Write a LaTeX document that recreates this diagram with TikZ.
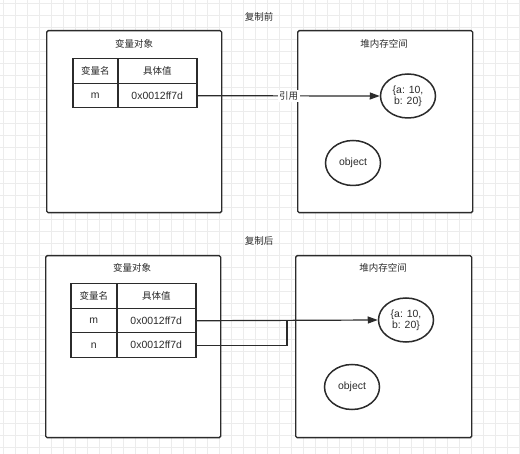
\documentclass[tikz,border=0pt]{standalone}
\usepackage{fontspec}
\setmainfont{Liberation Sans}[Scale=1.1]
\newfontfamily\cjk{Noto Sans CJK SC}
\usetikzlibrary{arrows.meta,shapes.geometric}

\definecolor{ink}{HTML}{2B2B2B}
\definecolor{grid line}{HTML}{ECECEC}

\begin{document}
\begin{tikzpicture}[x=1pt, y=-1pt, font=\fontsize{9.5}{11}\selectfont, text=ink,
  frame/.style={draw=ink, line width=1.4pt, rounded corners=1.5pt, fill=white,
                anchor=north west, minimum width=175pt, minimum height=182pt},
  cell/.style={draw=ink, line width=1.5pt, anchor=north west, inner sep=0pt},
  blob/.style={draw=ink, line width=1.5pt, ellipse, inner sep=0pt, align=center,
               minimum width=55pt, minimum height=44pt},
  link/.style={draw=ink, line width=1.2pt}]

\useasboundingbox[fill=white] (0,0) rectangle (520,454);
\draw[grid line, line width=0.6pt, xshift=3pt, yshift=-3pt, step=12pt] (-3,-3) grid (517,451);

% before copying
\node (titleA) at (259,17) {\cjk 复制前};
\node[frame] (stackA) at (46,30) {};
\node[frame] (heapA) at (297,30) {};
\node at (134,44) {\cjk 变量对象};
\node at (384,44) {\cjk 堆内存空间};

\node[cell, minimum width=45pt, minimum height=25pt] (nameA) at (72,58) {\cjk 变量名};
\node[cell, minimum width=79pt, minimum height=25pt] (valueA) at (117,58) {\cjk 具体值};
\node[cell, minimum width=45pt, minimum height=24pt] (mA) at (72,83) {m};
\node[cell, minimum width=79pt, minimum height=24pt] (mvalA) at (117,83) {0x0012ff7d};

\node[blob] (dataA) at (408,96) {\{a: 10,\\b: 20\}};
\node[blob, minimum height=45pt] (objA) at (353,163) {object};

\draw[link, -{Triangle[length=10pt,width=7pt]}] (mvalA.east) -- (dataA.west)
  node[pos=0.5, fill=white, inner sep=1.5pt] {\cjk 引用};

% after copying
\node (titleB) at (259,241) {\cjk 复制后};
\node[frame] (stackB) at (45,255) {};
\node[frame, minimum width=176pt] (heapB) at (295,255) {};
\node at (132,268) {\cjk 变量对象};
\node at (383,268) {\cjk 堆内存空间};

\node[cell, minimum width=46pt, minimum height=25pt] (nameB) at (70,283) {\cjk 变量名};
\node[cell, minimum width=79pt, minimum height=25pt] (valueB) at (116,283) {\cjk 具体值};
\node[cell, minimum width=46pt, minimum height=24pt] (mB) at (70,308) {m};
\node[cell, minimum width=79pt, minimum height=24pt] (mvalB) at (116,308) {0x0012ff7d};
\node[cell, minimum width=46pt, minimum height=25pt] (nB) at (70,332) {n};
\node[cell, minimum width=79pt, minimum height=25pt] (nvalB) at (116,332) {0x0012ff7d};

\node[blob] (dataB) at (406,320) {\{a: 10,\\b: 20\}};
\node[blob, minimum height=45pt] (objB) at (352,387) {object};

\coordinate (joinB) at (287,320);
\draw[link, -{Triangle[length=10pt,width=7pt]}] (mvalB.east) -- (dataB.west);
\draw[link] (nvalB.east) -| (joinB);
\end{tikzpicture}
\end{document}
